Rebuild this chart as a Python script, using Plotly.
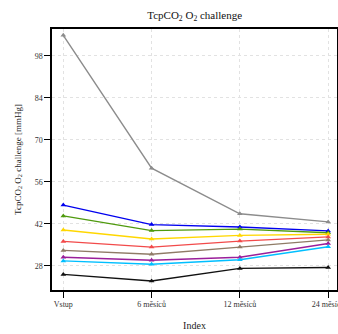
import plotly.graph_objects as go

categories = ["Vstup", "6 měsíců", "12 měsíců", "24 měsíců"]
series_names = ["gray", "blue", "green", "yellow", "red", "brown", "purple", "cyan", "black"]
gray = [104.8, 60.5, 45.3, 42.6]
blue = [48.2, 41.7, 40.9, 39.6]
green = [44.6, 39.7, 40.2, 39.0]
yellow = [39.9, 36.9, 38.1, 38.5]
red = [36.1, 34.2, 36.2, 37.6]
brown = [33.1, 31.8, 34.2, 36.6]
purple = [30.8, 29.8, 30.8, 35.4]
cyan = [29.6, 28.5, 30.0, 34.3]
black = [25.1, 22.9, 27.1, 27.4]
y_ticks = [28, 42, 56, 70, 84, 98]

values = [gray, blue, green, yellow, red, brown, purple, cyan, black]
colors = ["#8c8c8c", "#0000ee", "#4f9a0e", "#ffd700", "#f24a4a", "#8f7b66", "#9a1f9a", "#00bfff", "#111111"]

fig = go.Figure()
for name, vals, col in zip(series_names, values, colors):
    fig.add_trace(go.Scatter(
        x=categories, y=vals, mode="lines+markers", name=name,
        line=dict(color=col, width=1.4),
        marker=dict(symbol="triangle-up", size=5, color=col),
        showlegend=False,
    ))

font_family = "Liberation Serif, Times New Roman, serif"
fig.update_layout(
    width=338, height=334,
    margin=dict(l=52, r=1, t=29, b=44, autoexpand=False),
    paper_bgcolor="white", plot_bgcolor="white",
    font=dict(family=font_family, size=9, color="#222"),
    title=dict(text="TcpCO<sub>2</sub> O<sub>2</sub> challenge", x=0.576, xanchor="center",
               y=1 - 15 / 334, yanchor="middle", yref="container",
               font=dict(size=11, family=font_family, color="#111")),
)
fig.update_xaxes(
    type="category", range=[-0.128, 3.1], automargin=False,
    showline=True, mirror=True, linecolor="black", linewidth=1.5,
    ticks="outside", ticklen=6, tickcolor="black", tickwidth=1,
    tickfont=dict(size=8, color="#333"),
    showgrid=True, gridcolor="#e2e2e2", griddash="dot", gridwidth=1,
    zeroline=False,
    title=dict(text="Index", font=dict(size=10, color="#222"), standoff=14),
)
fig.update_yaxes(
    range=[19.9, 106.9], tickvals=y_ticks, automargin=False,
    showline=True, mirror=True, linecolor="black", linewidth=1.5,
    ticks="outside", ticklen=6, tickcolor="black", tickwidth=1,
    tickfont=dict(size=8, color="#333"),
    showgrid=True, gridcolor="#e2e2e2", griddash="dot", gridwidth=1,
    zeroline=False,
    title=dict(text="TcpCO<sub>2</sub> O<sub>2</sub> challenge [mmHg]", font=dict(size=9, color="#222"), standoff=12),
)

fig.write_html("out.html", config={"displayModeBar": False},
               post_script="document.body.style.margin='0';")
